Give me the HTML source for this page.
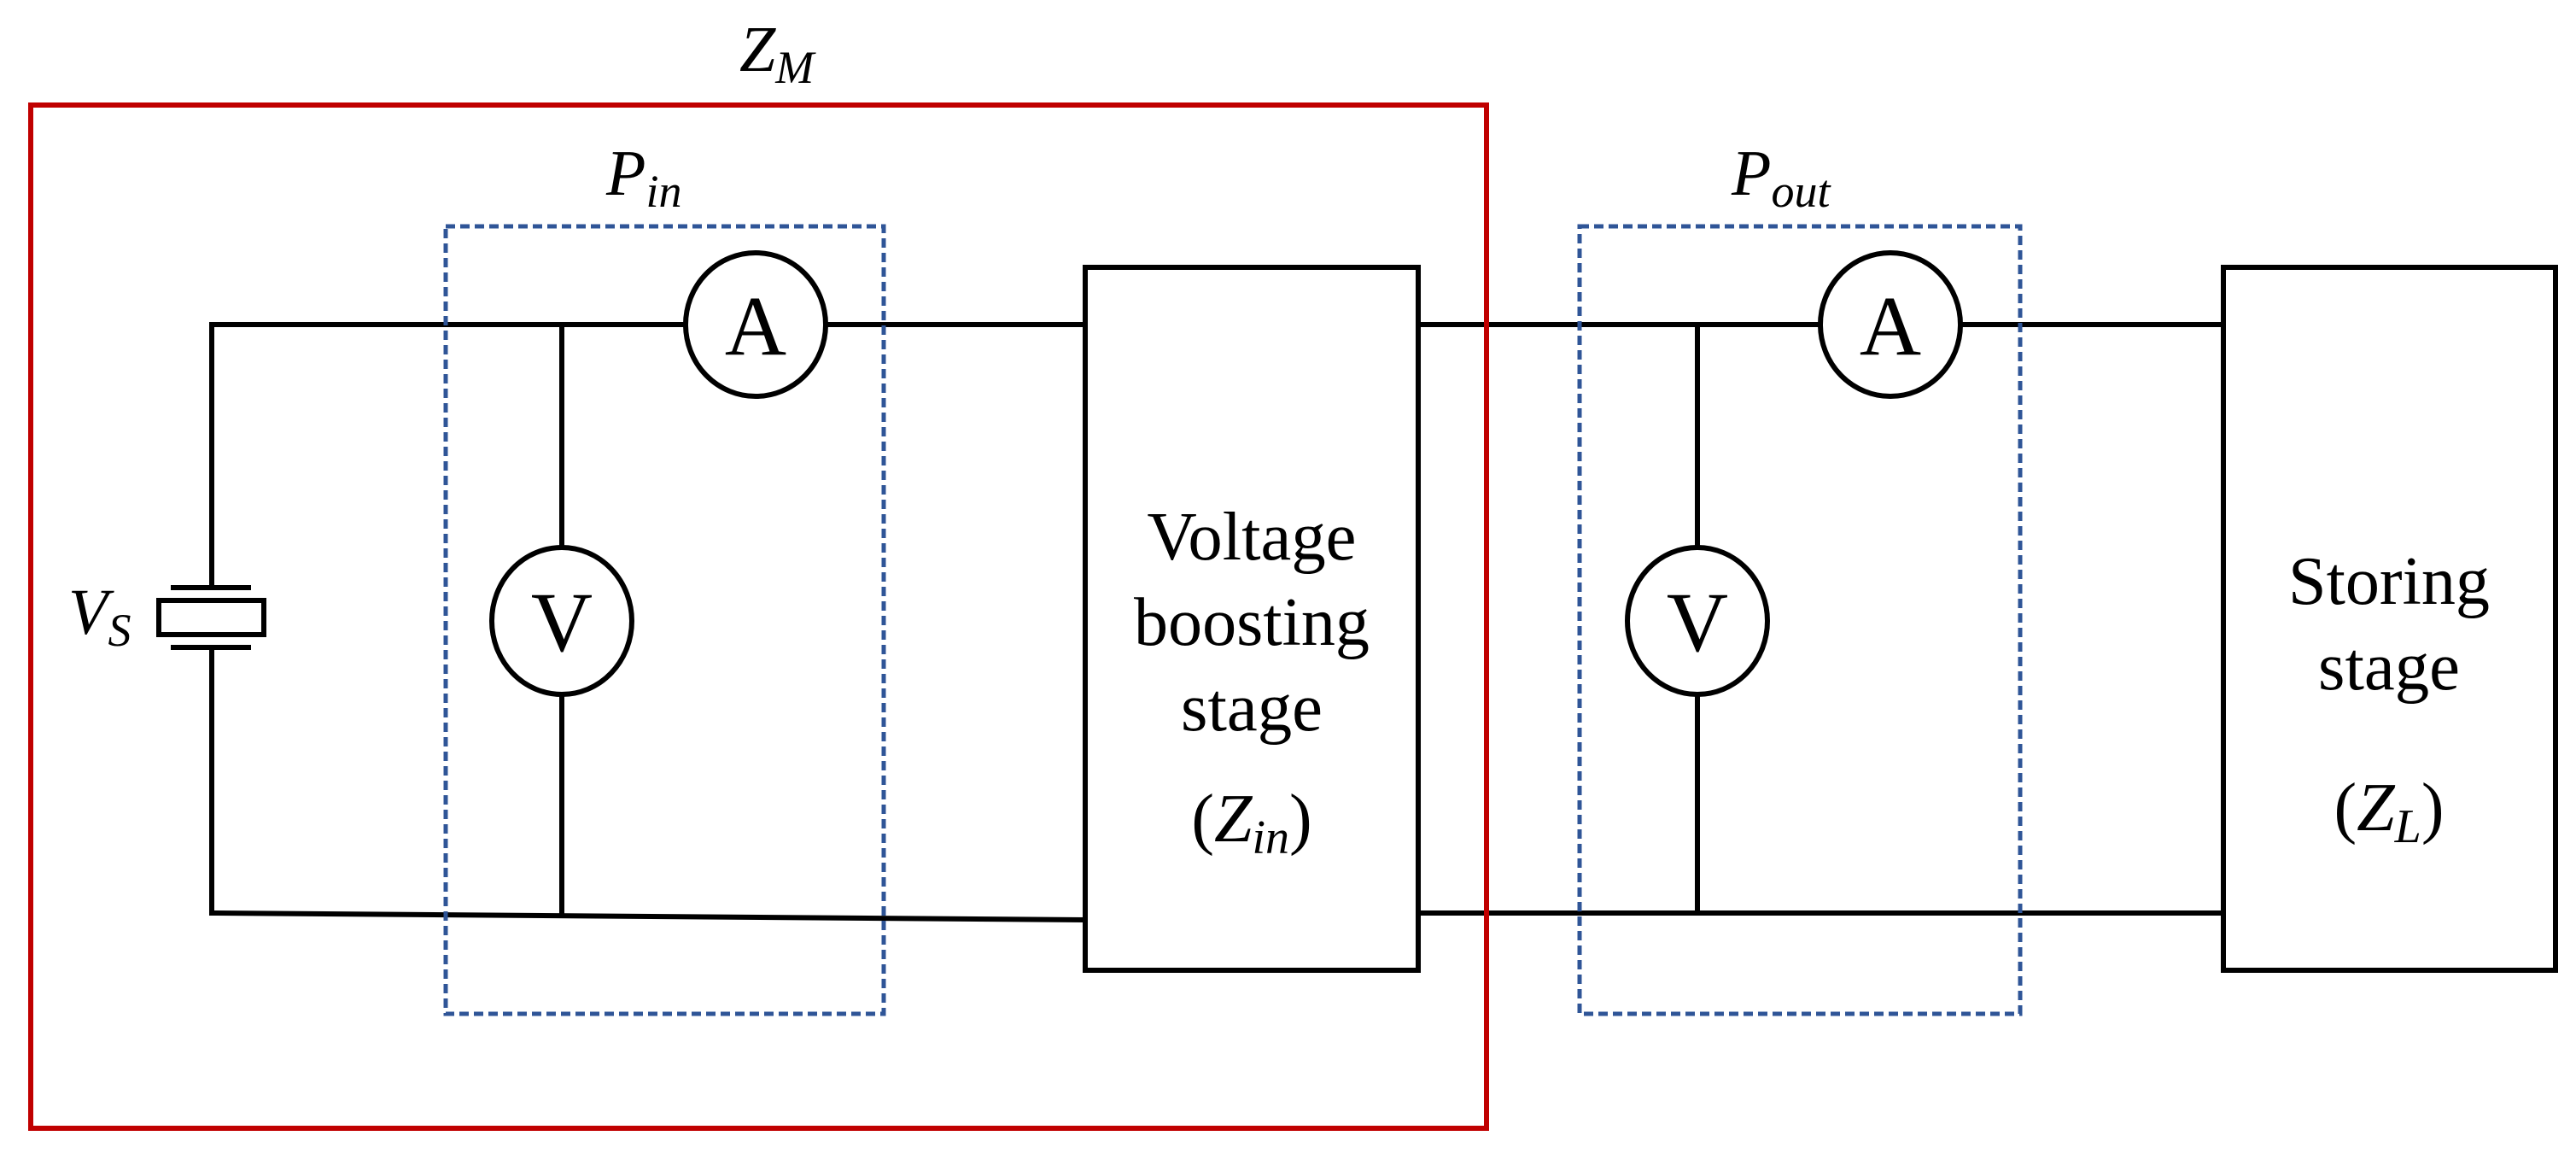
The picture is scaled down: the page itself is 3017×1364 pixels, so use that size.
<!DOCTYPE html>
<html><head><style>
html,body{margin:0;padding:0;background:#fff;}
svg{display:block;}
text{font-family:"Liberation Serif",serif;fill:#000;}
</style></head><body>
<svg width="3017" height="1364" viewBox="0 0 3017 1364" xmlns="http://www.w3.org/2000/svg">
<g stroke="#000" stroke-width="6" fill="none">
  <polyline points="248,688 248,380 803,380"/>
  <line x1="967" y1="380" x2="1271" y2="380"/>
  <polyline points="248,758 248,1069 1271,1077"/>
  <line x1="658" y1="380" x2="658" y2="641"/>
  <line x1="658" y1="813" x2="658" y2="1071"/>
  <ellipse cx="658" cy="727" rx="82" ry="86" fill="#fff"/>
  <ellipse cx="885" cy="380" rx="82" ry="84" fill="#fff"/>
  <line x1="200" y1="688" x2="294" y2="688"/>
  <rect x="186" y="703" width="123" height="40"/>
  <line x1="200" y1="758" x2="294" y2="758"/>
  <rect x="1271" y="313" width="390" height="823"/>
  <line x1="1661" y1="380" x2="2132" y2="380"/>
  <line x1="2296" y1="380" x2="2604" y2="380"/>
  <line x1="1661" y1="1069" x2="2604" y2="1069"/>
  <line x1="1988" y1="380" x2="1988" y2="641"/>
  <line x1="1988" y1="813" x2="1988" y2="1069"/>
  <ellipse cx="1988" cy="727" rx="82" ry="86" fill="#fff"/>
  <ellipse cx="2214" cy="380" rx="82" ry="84" fill="#fff"/>
  <rect x="2604" y="313" width="389" height="823"/>
</g>
<rect x="36" y="123" width="1705" height="1198" fill="none" stroke="#c00000" stroke-width="6"/>
<g fill="none" stroke="#2f5597" stroke-width="5" stroke-dasharray="11,6">
  <rect x="522" y="265" width="513" height="922"/>
  <rect x="1850" y="265" width="516" height="922"/>
</g>
<g font-size="100" text-anchor="middle">
  <text x="885" y="415">A</text>
  <text x="658" y="762">V</text>
  <text x="2214" y="415">A</text>
  <text x="1988" y="762">V</text>
</g>
<g font-size="80" text-anchor="middle">
  <text x="1466" y="655" textLength="245" lengthAdjust="spacingAndGlyphs">Voltage</text>
  <text x="1466" y="755" textLength="276" lengthAdjust="spacingAndGlyphs">boosting</text>
  <text x="1466" y="855" textLength="166" lengthAdjust="spacingAndGlyphs">stage</text>
  <text x="1466" y="985">(<tspan font-style="italic">Z</tspan><tspan font-style="italic" font-size="56" dy="14">in</tspan><tspan dy="-14">)</tspan></text>
  <text x="2798" y="707" textLength="236" lengthAdjust="spacingAndGlyphs">Storing</text>
  <text x="2798" y="807" textLength="166" lengthAdjust="spacingAndGlyphs">stage</text>
  <text x="2798" y="972">(<tspan font-style="italic">Z</tspan><tspan font-style="italic" font-size="56" dy="14">L</tspan><tspan dy="-14">)</tspan></text>
</g>
<g font-style="italic" font-size="76">
  <text x="866" y="83">Z<tspan font-size="54" dy="14">M</tspan></text>
  <text x="710" y="228">P<tspan font-size="54" dy="14">in</tspan></text>
  <text x="2028" y="228">P<tspan font-size="54" dy="14">out</tspan></text>
  <text x="80" y="742">V<tspan font-size="54" dy="14">S</tspan></text>
</g>
</svg>
</body></html>
